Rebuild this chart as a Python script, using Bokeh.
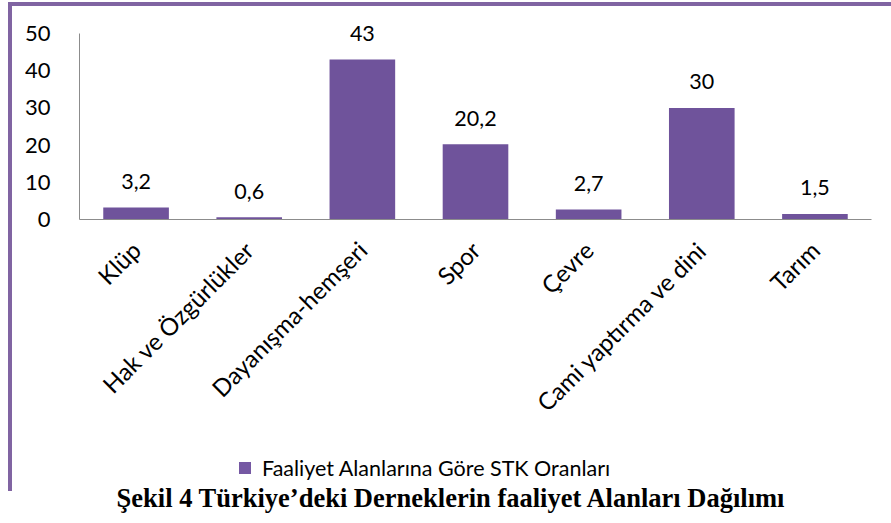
import math
from bokeh.plotting import figure
from bokeh.models import ColumnDataSource, FixedTicker, Div, Range1d
from bokeh.layouts import column
from bokeh.core.properties import value
from bokeh.embed import file_html
from bokeh.resources import INLINE

categories = ["Klüp", "Hak ve Özgürlükler", "Dayanışma-hemşeri", "Spor", "Çevre",
              "Cami yaptırma ve dini", "Tarım"]
values = [3.2, 0.6, 43, 20.2, 2.7, 30, 1.5]
value_labels = ["3,2", "0,6", "43", "20,2", "2,7", "30", "1,5"]
y_ticks = [0, 10, 20, 30, 40, 50]
series_name = "Faaliyet Alanlarına Göre STK Oranları"
caption = "Şekil 4 Türkiye’deki Derneklerin faaliyet Alanları Dağılımı"

FONT = "Lato"
PURPLE = "#8064A2"
BAR = "#6F539B"

src = ColumnDataSource(dict(cat=categories, val=values, lab=value_labels))

# frame: top 4px below canvas top, axis 0..50 spans 186px, headroom above 50 for labels
FRAME_H = 209
AXIS_H = 186
y_top = 50 * FRAME_H / AXIS_H

p = figure(x_range=categories, y_range=Range1d(0, y_top), width=879, height=444,
           output_backend="svg", toolbar_location=None,
           min_border_left=67, min_border_right=20, min_border_top=4,
           min_border_bottom=444 - 4 - FRAME_H)
p.outline_line_color = None
p.grid.visible = False

r = p.vbar(x="cat", top="val", width=0.58, source=src, fill_color=BAR, line_color=None)
p.text(x="cat", y="val", text="lab", source=src, text_align="center",
       text_baseline="middle", y_offset=-26, text_font=value(FONT),
       text_font_size="21.5px", text_color="#000000")

p.yaxis.ticker = FixedTicker(ticks=y_ticks)
p.yaxis.bounds = (0, 50)
p.yaxis.major_tick_line_color = None
p.yaxis.minor_tick_line_color = None
p.yaxis.major_label_standoff = 23
p.yaxis.axis_line_color = "#8c8c8c"
p.xaxis.axis_line_color = "#8c8c8c"
p.xaxis.major_tick_line_color = None
p.xaxis.minor_tick_line_color = None
p.yaxis.major_label_text_font_size = "22px"
p.xaxis.major_label_text_font_size = "24px"
for ax in (p.xaxis, p.yaxis):
    ax.major_label_text_font = FONT
    ax.major_label_text_color = "#000000"
p.xaxis.major_label_orientation = math.pi / 4
p.xaxis.major_label_standoff = 20

legend_html = (
    f'<span style="display:inline-block;width:12px;height:12px;background:#7558A3;'
    f'margin-right:11px;vertical-align:middle"></span>'
    f'<span style="vertical-align:middle">{series_name}</span>'
)
legend_div = Div(text=legend_html, width=657, height=31,
                 styles={"font-family": FONT, "font-size": "21.5px", "line-height": "20px",
                         "padding-left": "222px", "color": "#000000"})

inner = column(p, legend_div, spacing=0, margin=(2, 0, 0, 8),
               styles={"border-top": f"4px solid {PURPLE}",
                       "border-left": f"4px solid {PURPLE}"})

cap = Div(text=caption, width=888, height=34,
          styles={"font-family": "Liberation Serif", "font-weight": "bold",
                  "font-size": "26.5px", "line-height": "4px", "text-align": "center",
                  "padding-left": "3px", "white-space": "nowrap", "color": "#000000"})

layout = column(inner, cap, spacing=0)
open("out.html", "w").write(file_html(layout, INLINE))
